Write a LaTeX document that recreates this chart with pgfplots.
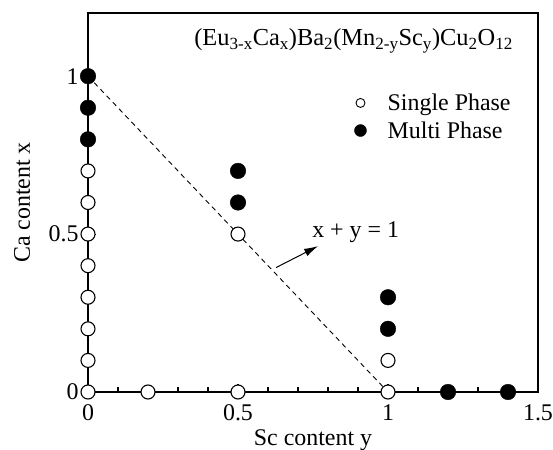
\documentclass[border=0pt]{standalone}
\usepackage{fontspec}
\setmainfont{Liberation Serif}
\usepackage{pgfplots}
\pgfplotsset{compat=1.18}
\usetikzlibrary{arrows.meta}

\newcommand{\lblfont}{\fontsize{24}{26}\selectfont}

\begin{document}
\begin{tikzpicture}
\begin{axis}[
  name=ax,
  scale only axis,
  anchor=south west, at={(0,0)},
  width=450bp, height=379bp,
  xmin=0, xmax=1.5, ymin=0, ymax=1.2,
  axis lines=box,
  xtick={0,0.5,1,1.5}, xticklabels={0,0.5,1,1.5},
  ytick={0,0.5,1}, yticklabels={0,0.5,1},
  minor x tick num=4, minor y tick num=4,
  tick pos=left, tick align=inside,
  major tick length=8bp, minor tick length=5bp,
  axis line style={line width=1.2pt},
  every tick/.style={line width=1.1pt, black},
  /pgf/number format/assume math mode=true,
  tick label style={font=\lblfont},
  xticklabel style={yshift=-9bp},
  yticklabel style={xshift=-6bp},
  every axis x label/.style={at={(axis description cs:0.5,0)}, yshift=-48bp, anchor=center, font=\lblfont},
  every axis y label/.style={at={(axis description cs:0,0.5)}, xshift=-66bp, rotate=90, anchor=center, font=\lblfont},
  xlabel={Sc content y},
  ylabel={Ca content x},
  clip=false,
  legend cell align=left,
  legend image code/.code={%
    \path (-9bp,0bp) (26bp,0bp);
    \draw[#1] plot coordinates {(0bp,0bp)};},
  legend style={draw=none, fill=none, at={(axis description cs:0.578,0.795)},
    anchor=north west, font=\lblfont,
    nodes={inner sep=1bp}, row sep=7.5bp, column sep=0bp},
]
% legend symbols are smaller than the plotted ones
\addlegendimage{only marks, mark=*, mark size=4.5bp, mark options={line width=0.9pt, draw=black, fill=white}}
\addlegendentry{Single Phase}
\addlegendimage{only marks, mark=*, mark size=6bp, mark options={draw=black, fill=black}}
\addlegendentry{Multi Phase}

% single-phase samples (white-filled circles)
\addplot[only marks, mark=*, mark size=7bp, mark options={line width=1.1pt, draw=black, fill=white}, forget plot]
coordinates {
  (0,0) (0,0.1) (0,0.2) (0,0.3) (0,0.4) (0,0.5) (0,0.6) (0,0.7)
  (0.2,0) (0.5,0) (1,0)
  (0.5,0.5) (1,0.1)
};
% multi-phase samples
\addplot[only marks, mark=*, mark size=7.8bp, mark options={draw=black, fill=black}, forget plot]
coordinates {
  (0,0.8) (0,0.9) (0,1.0)
  (0.5,0.6) (0.5,0.7)
  (1,0.2) (1,0.3)
  (1.2,0) (1.4,0)
};
% boundary x + y = 1
\addplot[line width=0.9pt, dash pattern=on 5bp off 4bp, forget plot]
coordinates {(0,1) (1,0)};
\draw[-{Latex[length=14bp,width=8bp]}, line width=1pt] (axis cs:0.627,0.394) -- (axis cs:0.767,0.462);
\node[anchor=west, inner sep=0pt, font=\lblfont] at (axis cs:0.747,0.505) {x + y = 1};
\node[anchor=east, inner sep=0pt, font=\fontsize{24.5}{26}\selectfont] at (axis cs:1.417,1.111)
  {(Eu\textsubscript{3-x}Ca\textsubscript{x})Ba\textsubscript{2}(Mn\textsubscript{2-y}Sc\textsubscript{y})Cu\textsubscript{2}O\textsubscript{12}};
\end{axis}
% upper and right edges of the frame
\draw[line width=1.2pt, line cap=rect] (ax.south east) -- (ax.north east) -- (ax.north west);
\pgfresetboundingbox
\path (-88bp,-58bp) rectangle (465bp,392bp);
\end{tikzpicture}
\end{document}
